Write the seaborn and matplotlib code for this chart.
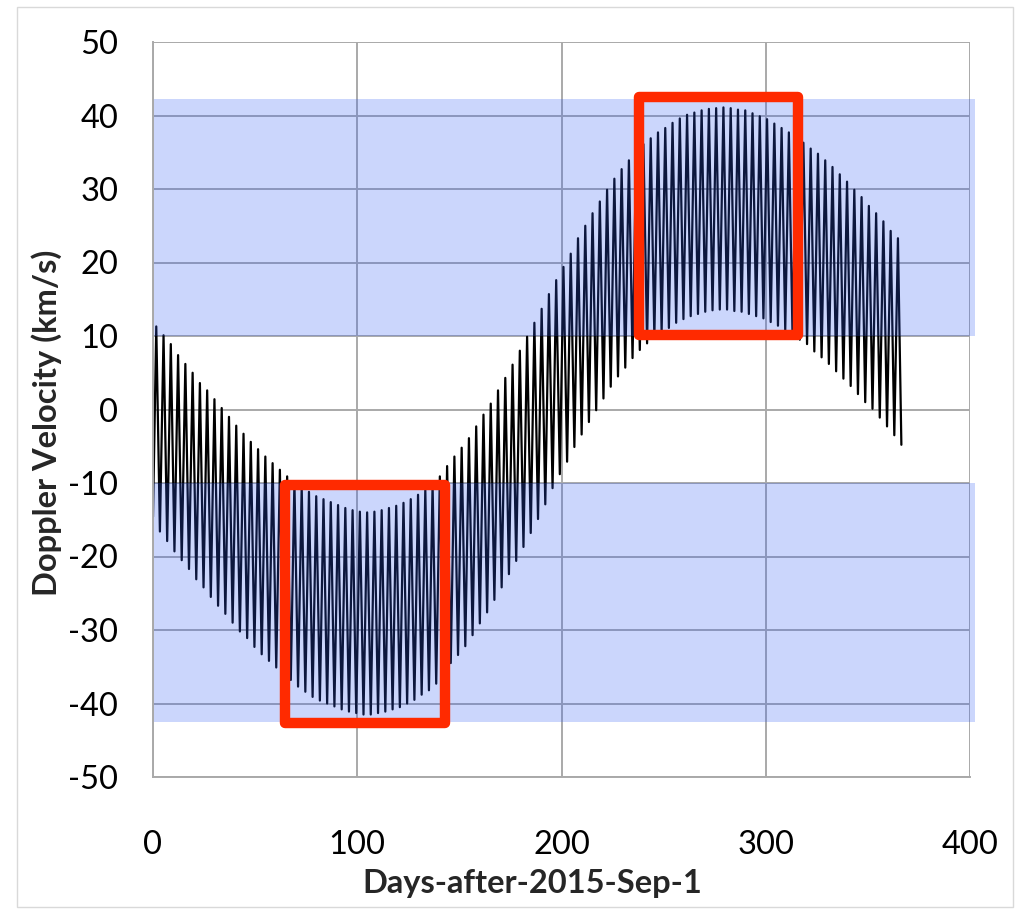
import matplotlib
matplotlib.use("Agg")
import matplotlib.pyplot as plt
from matplotlib.patches import Rectangle
from matplotlib.ticker import MultipleLocator
import pandas as pd
import seaborn as sns

# --- Doppler velocity samples: one crest and one trough per ~3.56-day cycle ---
first_peak_day = 1.6
cycle_days = 3.56
start_day, start_velocity = 0.0, -14.6
end_day, end_velocity = 366.4, -4.8

peak_velocity = [
    11.3, 10.1, 8.9, 7.4, 6.2, 5.0, 3.6, 2.6, 1.4, 0.2,
    -1.0, -2.2, -3.3, -4.4, -5.4, -6.4, -7.3, -8.2, -9.1,
    -9.8, -10.5, -11.2, -11.8, -12.2, -12.6, -13.0, -13.4, -13.7, -13.9,
    -14.0, -13.9, -13.7, -13.4, -13.1, -12.7, -12.2, -11.6, -10.9, -10.2,
    -9.1, -7.7,
    -6.4, -5.2, -3.9, -2.3, -0.7, 0.8, 2.6, 4.3, 6.1, 8.0,
    9.9, 11.8, 13.7, 15.7, 17.6, 19.4, 21.2,
    23.3, 25.0, 26.7, 28.3, 29.9, 31.4, 32.7, 33.9, 35.1, 36.1,
    36.9, 37.7, 38.3, 39.0, 39.6, 40.1, 40.4, 40.7, 40.9, 41.0,
    41.1, 41.0, 40.8, 40.7, 40.3, 39.9, 39.5, 38.9, 38.3, 37.7,
    37.0, 36.3, 35.5, 34.8, 33.9, 33.0, 32.0, 31.0, 29.9, 28.9,
    27.7, 26.7, 25.6, 24.3, 23.3,
]
trough_velocity = [
    -16.6, -17.9, -19.3, -20.5, -21.7, -23.1, -24.2, -25.5, -26.7, -27.8,
    -29.0, -30.2, -31.1, -32.3, -33.3, -34.2, -35.1, -36.0, -36.8, -37.7,
    -38.4, -39.1, -39.6, -40.0, -40.4, -40.8, -41.1, -41.3, -41.5, -41.5,
    -41.3, -41.1, -40.8, -40.5, -40.0, -39.5, -38.8, -38.2, -37.3, -36.0,
    -34.5,
    -33.4, -32.2, -30.7, -29.1, -27.6, -25.9, -24.2, -22.4, -20.6, -18.7,
    -16.8, -14.9, -12.9,
    -10.7, -8.8, -7.1, -5.1, -3.4, -1.7, -0.1, 1.5, 3.1, 4.5, 5.7, 7.0, 8.1,
    9.0, 9.8, 10.5, 11.1, 11.8, 12.3, 12.7, 13.0, 13.3, 13.5,
    13.6, 13.6, 13.4, 13.3, 13.0, 12.7, 12.4, 11.9, 11.4, 10.8,
    10.2, 9.5, 8.9, 7.9, 7.1, 6.2, 5.2, 4.2, 3.2, 2.1,
    1.0, 0.1, -1.1, -2.3, -3.5,
]

# shaded velocity ranges (low, high)
band_low = [10.0, -42.5]
band_high = [42.3, -10.0]
# highlighted windows: day range and velocity range
box_day_start = [64.7, 237.7]
box_day_end = [143.0, 315.7]
box_vel_low = [-42.65, 10.1]
box_vel_high = [-10.3, 42.5]

x_label = "Days-after-2015-Sep-1"
y_label = "Doppler Velocity (km/s)"

# assemble the alternating crest/trough sequence
days, vels = [start_day], [start_velocity]
for k, pv in enumerate(peak_velocity):
    days.append(first_peak_day + k * cycle_days)
    vels.append(pv)
    if k < len(trough_velocity):
        days.append(first_peak_day + (k + 0.5) * cycle_days)
        vels.append(trough_velocity[k])
days.append(end_day)
vels.append(end_velocity)
df = pd.DataFrame({"day": days, "velocity": vels})

sns.set_theme(style="white")
plt.rcParams["font.family"] = ["Lato", "DejaVu Sans"]
plt.rcParams["axes.unicode_minus"] = False

W, H = 1015, 910
fig = plt.figure(figsize=(W / 100, H / 100), dpi=100)
ax = fig.add_axes([153 / W, 1 - 777 / H, (970 - 153) / W, (777 - 42) / H])

grid_col = "#a9a9a9"
ax.set_xlim(0, 400)
ax.set_ylim(-50, 50)
ax.xaxis.set_major_locator(MultipleLocator(100))
ax.xaxis.set_minor_locator(MultipleLocator(20))
ax.yaxis.set_major_locator(MultipleLocator(10))
ax.yaxis.set_minor_locator(MultipleLocator(2))
ax.grid(True, which="major", color=grid_col, lw=1.4, zorder=0.5)
ax.set_axisbelow(True)

sns.lineplot(data=df, x="day", y="velocity", sort=False, estimator=None,
             color="black", lw=1.6, ax=ax, zorder=2,
             solid_joinstyle="round", solid_capstyle="round")

for lo, hi in zip(band_low, band_high):
    ax.axhspan(lo, hi, xmin=0, xmax=1.006, color=(0.2, 0.36, 0.96),
               alpha=0.25, lw=0, zorder=3, clip_on=False)

for x0, x1, y0, y1 in zip(box_day_start, box_day_end, box_vel_low, box_vel_high):
    ax.add_patch(Rectangle((x0, y0), x1 - x0, y1 - y0, fill=False,
                           edgecolor="#ff2a00", lw=7.5, joinstyle="round",
                           zorder=5, clip_on=False))

for side in ["top", "right"]:
    ax.spines[side].set_visible(False)
for side in ["left", "bottom"]:
    ax.spines[side].set_color(grid_col)
    ax.spines[side].set_linewidth(1.4)
    ax.spines[side].set_zorder(4)

ax.tick_params(which="both", direction="in", color=grid_col, width=1.2,
               length=6, labelsize=23.5, labelcolor="black")
ax.tick_params(axis="y", which="major", pad=25)
ax.tick_params(axis="x", which="major", pad=38)
ax.set_xlabel("")
ax.set_ylabel("")

fig.text(532 / W, 1 - 883 / H, x_label, ha="center", va="center",
         fontsize=23.5, fontweight="bold")
fig.text(47 / W, 1 - 423 / H, y_label, ha="center", va="center",
         fontsize=23.5, fontweight="bold", rotation=90)

fig.add_artist(Rectangle((17 / W, 3 / H), (1013 - 17) / W, (903 - 3) / H,
                         transform=fig.transFigure, fill=False,
                         edgecolor="#d9d9d9", lw=1.0))

fig.savefig("out.png", dpi=100)
